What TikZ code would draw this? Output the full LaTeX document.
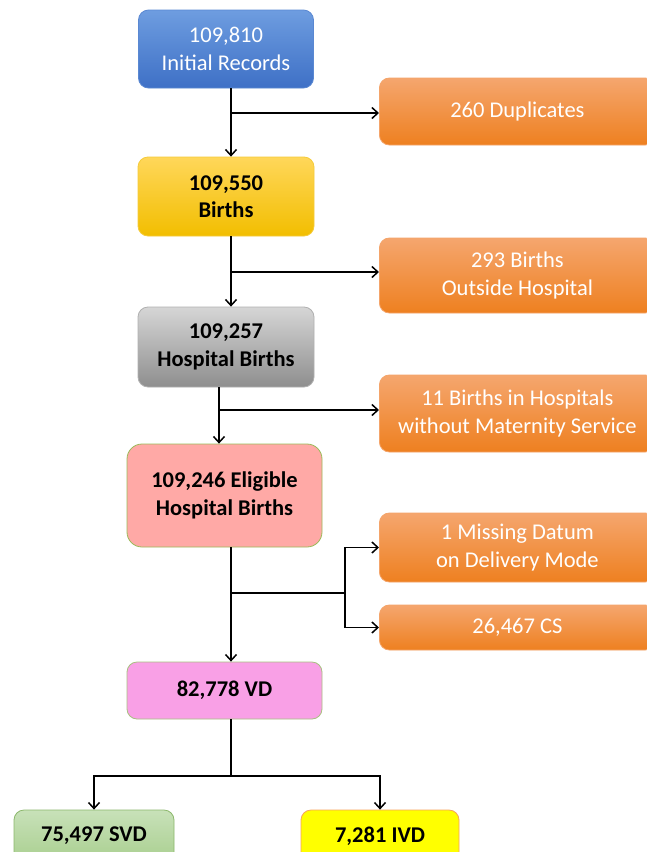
\documentclass[tikz,border=0pt]{standalone}
\usepackage{fontspec}
\setmainfont{Carlito}
\usetikzlibrary{arrows.meta}
\definecolor{blueTop}{HTML}{6E9DE0}
\definecolor{blueBot}{HTML}{3E70C6}
\definecolor{blueLine}{HTML}{5A88D2}
\definecolor{yelTop}{HTML}{FFD75A}
\definecolor{yelBot}{HTML}{F2BE00}
\definecolor{yelLine}{HTML}{F5CB3A}
\definecolor{grayTop}{HTML}{D6D6D6}
\definecolor{grayBot}{HTML}{8E8E8E}
\definecolor{grayLine}{HTML}{B0B0B0}
\definecolor{orTop}{HTML}{F5A66E}
\definecolor{orBot}{HTML}{EE8020}
\definecolor{orLine}{HTML}{F4A46A}
\definecolor{pinkFill}{HTML}{FFA9A6}
\definecolor{greenLine}{HTML}{9BBB59}
\definecolor{vdFill}{HTML}{F9A0E6}
\definecolor{vdLine}{HTML}{A8C080}
\definecolor{svdTop}{HTML}{C8E1B9}
\definecolor{svdBot}{HTML}{A9CF8F}
\definecolor{svdLine}{HTML}{8CB86C}
\definecolor{ivdFill}{HTML}{FFFF00}
\definecolor{ivdLine}{HTML}{F7A35C}
\tikzset{
  box/.style={rounded corners=10pt, inner sep=0pt, align=center,
    font=\fontsize{22.5}{27.5}\selectfont, line width=0.8pt},
  boldtext/.style={font=\fontsize{22.5}{27.5}\selectfont\bfseries},
  bluebox/.style={box, top color=blueTop, bottom color=blueBot, draw=blueLine, text=white},
  yelbox/.style={box, boldtext, top color=yelTop, bottom color=yelBot, draw=yelLine},
  graybox/.style={box, boldtext, top color=grayTop, bottom color=grayBot, draw=grayLine},
  orbox/.style={box, top color=orTop, bottom color=orBot, draw=orLine, text=white, anchor=west, minimum width=276pt},
  pinkbox/.style={box, boldtext, rounded corners=15pt, fill=pinkFill, draw=greenLine},
  vdbox/.style={box, boldtext, fill=vdFill, draw=vdLine},
  svdbox/.style={box, boldtext, top color=svdTop, bottom color=svdBot, draw=svdLine},
  ivdbox/.style={box, boldtext, fill=ivdFill, draw=ivdLine},
  conn/.style={line width=1.5pt, black},
  arr/.style={conn, -{Straight Barb[length=6pt,width=11pt]}}
}
\begin{document}
\begin{tikzpicture}[x=1pt,y=-1pt]
\useasboundingbox (0,0) rectangle (646,852);
\fill[white] (0,0) rectangle (646,852);

\node[bluebox, minimum width=175pt, minimum height=78pt] (b1) at (226,49) {109,810\\Initial Records};
\node[yelbox, minimum width=176pt, minimum height=79pt] (b2) at (226,196.5) {109,550\\Births};
\node[graybox, minimum width=176pt, minimum height=80pt] (b3) at (226,347) {109,257\\Hospital Births};
\node[pinkbox, minimum width=195pt, minimum height=103pt] (b4) at (224.5,495.5) {109,246 Eligible\\Hospital Births};
\node[vdbox, minimum width=195pt, minimum height=57pt] (b5) at (224.5,690.5) {82,778 VD};
\node[svdbox, minimum width=160pt, minimum height=52pt] (svd) at (94,836) {75,497 SVD};
\node[ivdbox, minimum width=158pt, minimum height=52pt] (ivd) at (380,836) {7,281 IVD};

\node[orbox, minimum height=67pt] (o1) at (379,111.5) {260 Duplicates};
\node[orbox, minimum height=75pt] (o2) at (379,275.5) {293 Births\\Outside Hospital};
\node[orbox, minimum height=77pt] (o3) at (379,413.5) {11 Births in Hospitals\\without Maternity Service};
\node[orbox, minimum height=69pt] (o4) at (379,547.5) {1 Missing Datum\\on Delivery Mode};
\node[orbox, minimum height=45pt] (o5) at (379,627.5) {26,467 CS};

% connectors
\coordinate (s1) at (231,113);
\draw[arr] (b1.south -| s1) -- (b2.north -| s1);
\draw[arr] (s1) -- (s1 -| o1.west);

\coordinate (s2) at (231,272);
\draw[arr] (b2.south -| s2) -- (b3.north -| s2);
\draw[arr] (s2) -- (s2 -| o2.west);

\coordinate (s3) at (219,410);
\draw[arr] (b3.south -| s3) -- (b4.north -| s3);
\draw[arr] (s3) -- (s3 -| o3.west);

\coordinate (s4) at (231,593);
\coordinate (k4) at (345,593);
\draw[arr] (b4.south -| s4) -- (b5.north -| s4);
\draw[conn] (s4) -- (k4);
\draw[arr] (k4) |- (o4.west);
\draw[arr] (k4) |- (o5.west);

\coordinate (s5) at (231,776);
\draw[conn] (b5.south -| s5) -- (s5);
\draw[arr] (s5) -| (svd.north);
\draw[arr] (s5) -| (ivd.north);
\end{tikzpicture}
\end{document}
